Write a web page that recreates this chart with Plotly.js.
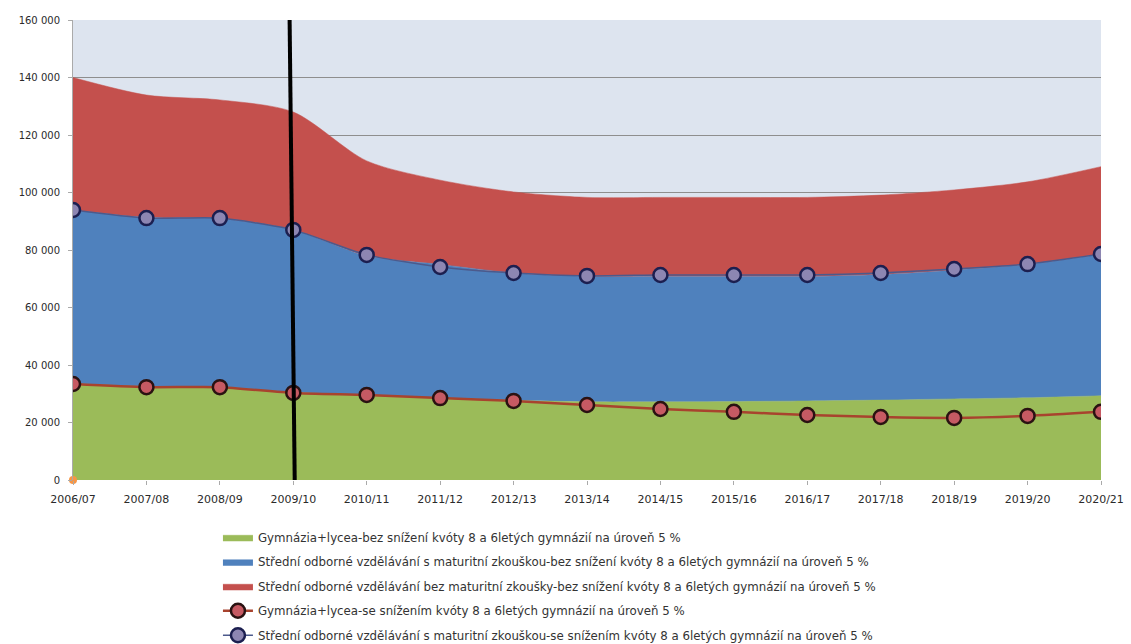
<!DOCTYPE html>
<html><head><meta charset="utf-8">
<script src="https://cdn.plot.ly/plotly-3.0.1.min.js"></script>
<style>html,body{margin:0;padding:0;background:#fff}#chart{width:1131px;height:644px}</style>
</head><body><div id="chart"></div>
<script>
var years = ["2006/07","2007/08","2008/09","2009/10","2010/11","2011/12","2012/13","2013/14","2014/15","2015/16","2016/17","2017/18","2018/19","2019/20","2020/21"];
// stacked areas (bez snížení)
var gymBez  = [33500,32500,32200,30500,29500,28500,27700,27200,27200,27300,27500,27800,28200,28600,29300];
var somBez  = [60400,58800,58800,56500,48500,46500,44300,43600,43600,43500,43300,43700,44800,46400,49200];
var sovBez  = [46100,42600,41200,41000,33000,29300,28200,27500,27500,27500,27500,27600,27900,28700,30500];
// lines (se snížením), as plotted
var gymSe   = [33400,32300,32300,30300,29600,28500,27500,26100,24700,23700,22600,21900,21600,22300,23700];
var somSe   = [93900,91100,91100,87000,78300,74100,72000,71000,71300,71300,71300,72000,73400,75100,78600];
var orangePt = [0];
var names = [
 "Gymnázia+lycea-bez snížení kvóty 8 a 6letých gymnázií na úroveň 5 %",
 "Střední odborné vzdělávání s maturitní zkouškou-bez snížení kvóty 8 a 6letých gymnázií na úroveň 5 %",
 "Střední odborné vzdělávání bez maturitní zkoušky-bez snížení kvóty 8 a 6letých gymnázií na úroveň 5 %",
 "Gymnázia+lycea-se snížením kvóty 8 a 6letých gymnázií na úroveň 5 %",
 "Střední odborné vzdělávání s maturitní zkouškou-se snížením kvóty 8 a 6letých gymnázií na úroveň 5 %"
];
var cols = {green:"#9bbb59", blue:"#4f81bd", red:"#c4504d"};
function area(y, name, c, g){
  return {x:years, y:y, name:name, type:"scatter", mode:"lines", stackgroup:"a",
    line:{width:0.5, color:c, shape:"spline", smoothing:0.8}, fillcolor:c, legendgroup:g, hoverinfo:"y"};
}
var traces = [
  area(gymBez, names[0], cols.green, "g1"),
  area(somBez, names[1], cols.blue, "g2"),
  area(sovBez, names[2], cols.red, "g3"),
  {x:years, y:gymSe, name:names[3], type:"scatter", mode:"lines+markers", legendgroup:"g4",
   line:{color:"#a8432e", width:2.5, shape:"spline", smoothing:0.6},
   marker:{size:14, color:"#c65a63", line:{color:"#2a1212", width:2.5}}},
  {x:years, y:somSe, name:names[4], type:"scatter", mode:"lines+markers", legendgroup:"g5",
   line:{color:"#4c5a8c", width:1.5, shape:"spline", smoothing:0.6},
   marker:{size:14, color:"#8d86b2", line:{color:"#1c1f50", width:2.5}}},
  {x:[years[0]], y:orangePt, type:"scatter", mode:"markers", showlegend:false,
   marker:{size:8, color:"#f79646"}, cliponaxis:false}
];
var layout = {
  width:1131, height:644,
  margin:{l:73, r:30, t:20, b:164, autoexpand:false},
  paper_bgcolor:"#ffffff", plot_bgcolor:"#dde4ef",
  separators:", ",
  font:{family:"DejaVu Sans, Verdana, sans-serif", color:"#333"},
  showlegend:true,
  xaxis:{type:"category", range:[0,14], showgrid:false, zeroline:false,
    ticks:"outside", ticklen:4, tickcolor:"#aaa", showline:false,
    tickfont:{size:11, color:"#2a2a2a"}, ticklabelstandoff:5},
  yaxis:{range:[0,160000], dtick:20000, tickformat:",d", showgrid:true, gridcolor:"#8e8e8e", gridwidth:1,
    zeroline:false, showline:true, linecolor:"#aaa", linewidth:1, ticks:"outside", ticklen:4, tickcolor:"#aaa",
    tickfont:{size:10, color:"#2a2a2a"}, ticklabelstandoff:6},
  legend:{x:0.141, y:-0.093, xanchor:"left", yanchor:"top", orientation:"v", traceorder:"grouped", tracegroupgap:5.5,
    font:{size:11.8, color:"#333"}, bgcolor:"rgba(0,0,0,0)"},
  shapes:[{type:"line", xref:"x", yref:"y", x0:2.95, x1:3.02, y0:160000, y1:-1000, line:{color:"#000", width:4}}]
};
Plotly.newPlot("chart", traces, layout, {displayModeBar:false, staticPlot:true});
</script></body></html>
